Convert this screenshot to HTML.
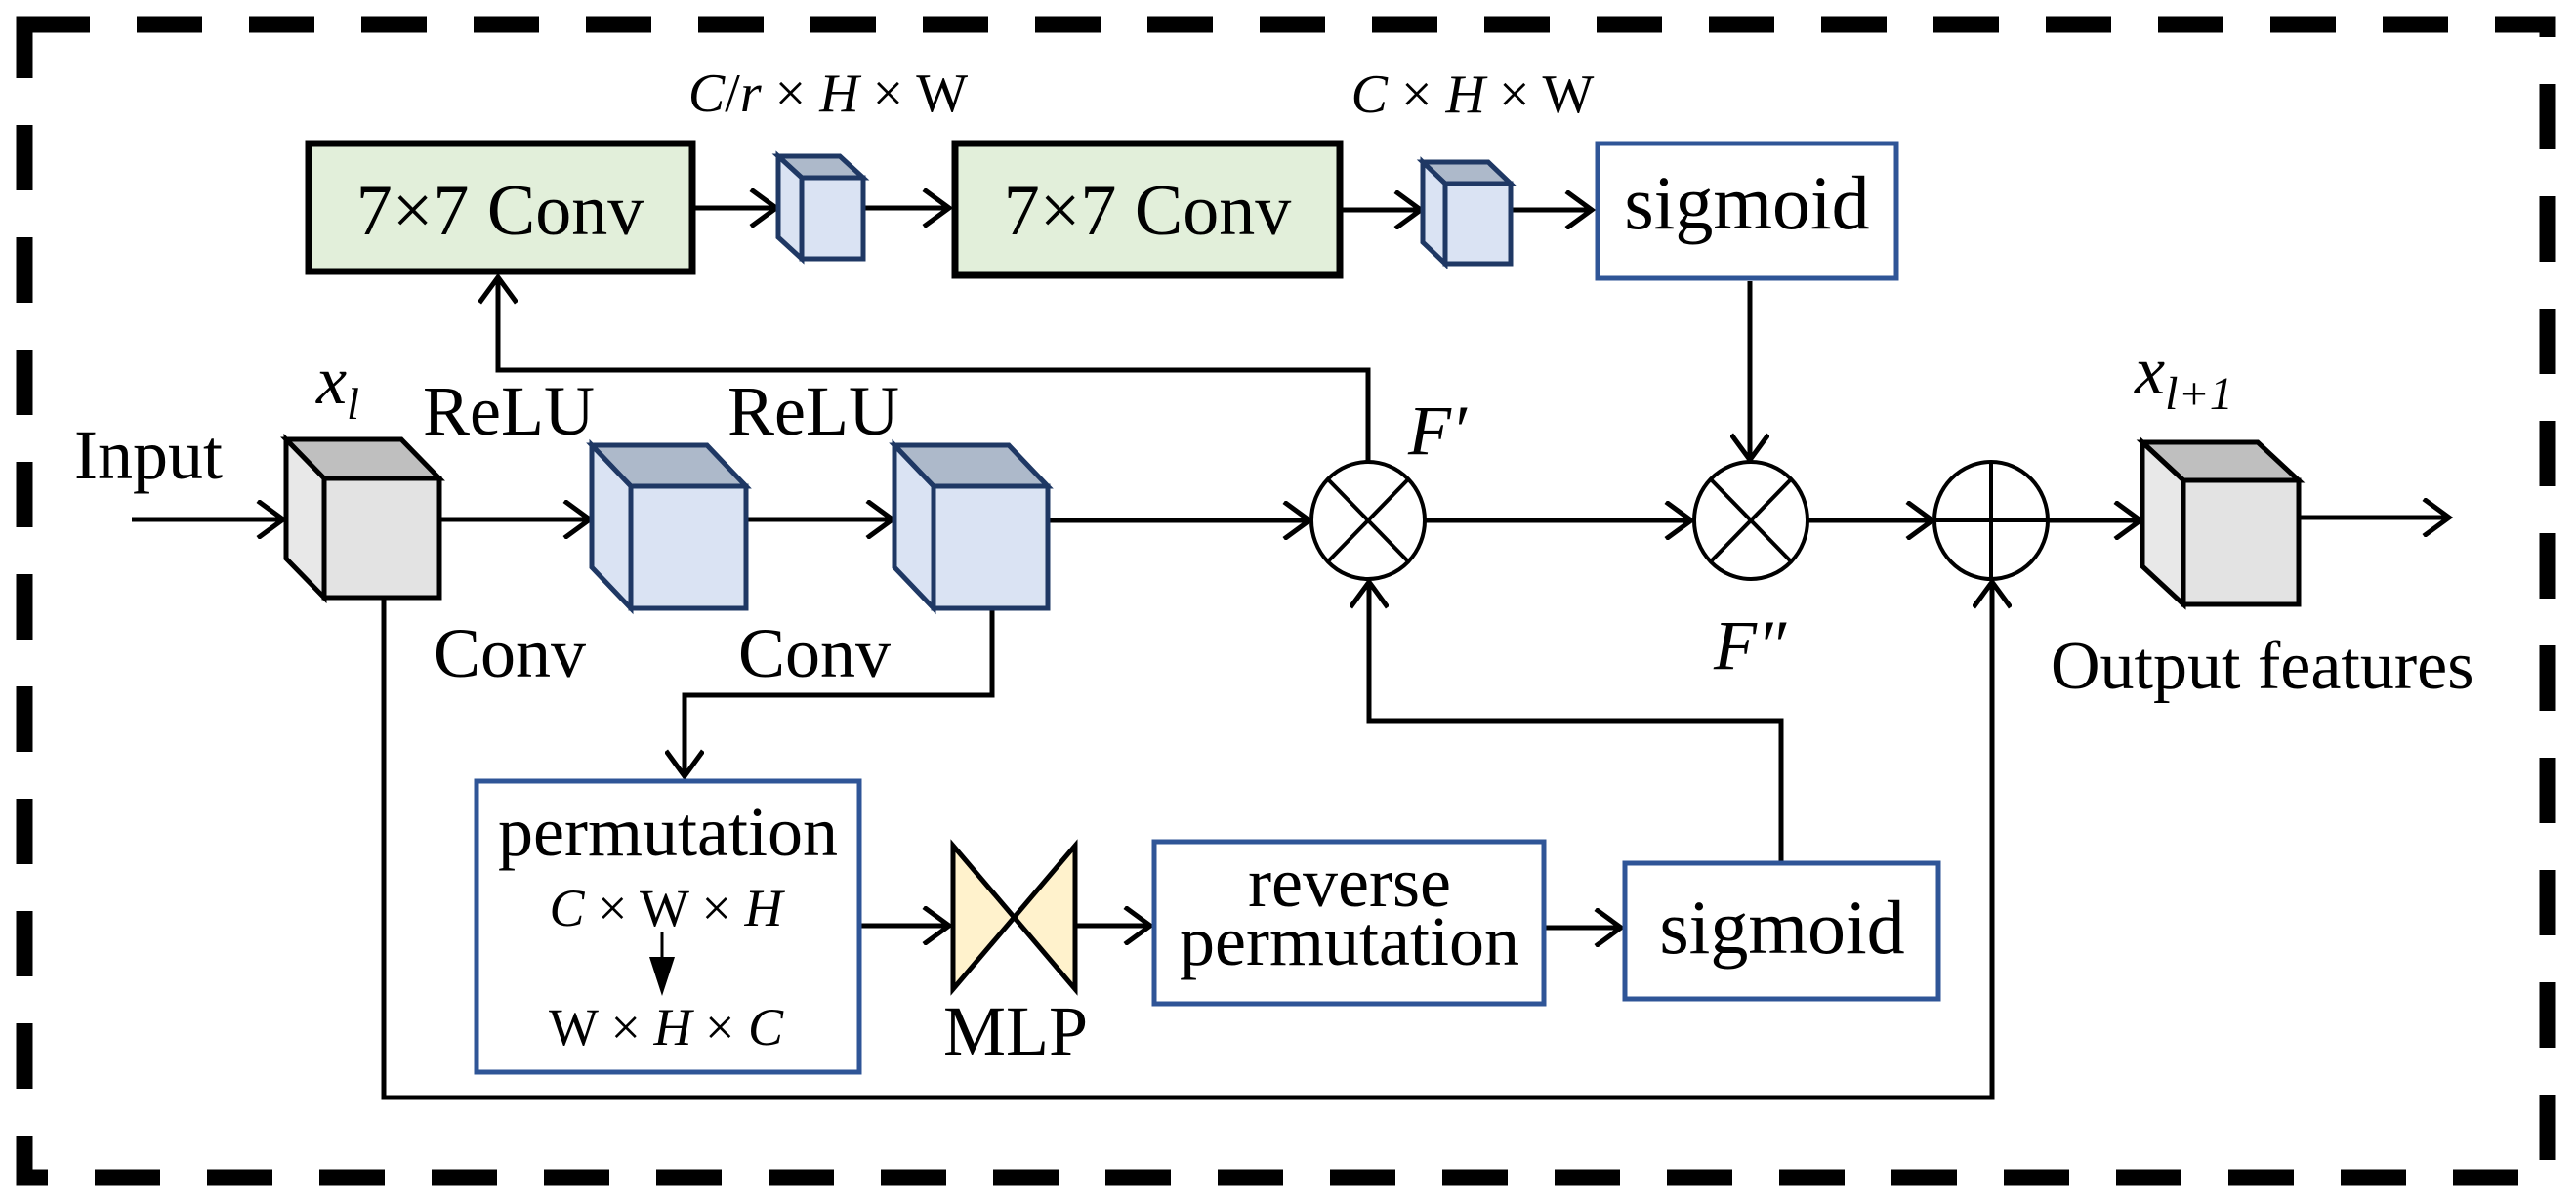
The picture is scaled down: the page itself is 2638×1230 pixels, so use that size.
<!DOCTYPE html>
<html><head><meta charset="utf-8">
<style>html,body{margin:0;padding:0;background:#fff}svg{display:block}
text{font-family:"Liberation Serif",serif;fill:#000}</style></head>
<body>
<svg width="2638" height="1230" viewBox="0 0 2638 1230" xmlns="http://www.w3.org/2000/svg">
<defs>
<marker id="a" markerWidth="40" markerHeight="40" refX="30" refY="20" orient="auto" markerUnits="userSpaceOnUse">
<path d="M4,1 L30,20 L4,39" fill="none" stroke="#000" stroke-width="5"/>
</marker>
</defs>
<rect x="25" y="25" width="2584" height="1181" fill="none" stroke="#000" stroke-width="17" stroke-dasharray="67 48"/>

<g fill="none" stroke="#000" stroke-width="5">
<line x1="712" y1="213" x2="795" y2="213" marker-end="url(#a)"/>
<line x1="886" y1="213" x2="972" y2="213" marker-end="url(#a)"/>
<line x1="1375" y1="215" x2="1455" y2="215" marker-end="url(#a)"/>
<line x1="1547" y1="215" x2="1630" y2="215" marker-end="url(#a)"/>
<line x1="135" y1="532" x2="290" y2="532" marker-end="url(#a)"/>
<line x1="450" y1="532" x2="604" y2="532" marker-end="url(#a)"/>
<line x1="764" y1="532" x2="914" y2="532" marker-end="url(#a)"/>
<line x1="1073" y1="533" x2="1341" y2="533" marker-end="url(#a)"/>
<line x1="1460" y1="533" x2="1732" y2="533" marker-end="url(#a)"/>
<line x1="1852" y1="533" x2="1979" y2="533" marker-end="url(#a)"/>
<line x1="2097" y1="533" x2="2192" y2="533" marker-end="url(#a)"/>
<line x1="2354" y1="530" x2="2508" y2="530" marker-end="url(#a)"/>
<polyline points="1401,473 1401,379 510,379 510,284" marker-end="url(#a)"/>
<line x1="1792" y1="288" x2="1792" y2="471" marker-end="url(#a)"/>
<polyline points="1016,623 1016,712 701,712 701,795" marker-end="url(#a)"/>
<line x1="882" y1="948" x2="972" y2="948" marker-end="url(#a)"/>
<line x1="1101" y1="948" x2="1178" y2="948" marker-end="url(#a)"/>
<line x1="1583" y1="950" x2="1660" y2="950" marker-end="url(#a)"/>
<polyline points="1824,882 1824,738 1402,738 1402,596" marker-end="url(#a)"/>
<polyline points="393,612 393,1124 2040,1124 2040,596" marker-end="url(#a)"/>
</g>

<rect x="316" y="147" width="393" height="131" fill="#e2efda" stroke="#000" stroke-width="7"/>
<rect x="978" y="147" width="394" height="135" fill="#e2efda" stroke="#000" stroke-width="7"/>
<text x="512" y="240" font-size="74" text-anchor="middle">7×7 Conv</text>
<text x="1175" y="240" font-size="74" text-anchor="middle">7×7 Conv</text>

<rect x="1636" y="147" width="306" height="138" fill="#fff" stroke="#2f5597" stroke-width="5"/>
<text x="1789" y="234" font-size="78" text-anchor="middle">sigmoid</text>

<g stroke-width="5" stroke-linejoin="miter">
<g stroke="#000">
<polygon points="293,450 411,450 450,490 332,490" fill="#bfbfbf"/>
<polygon points="293,450 332,490 332,612 293,572" fill="#e8e8e8"/>
<rect x="332" y="490" width="118" height="122" fill="#e3e3e3"/>
<polygon points="2194,453 2312,453 2354,492 2236,492" fill="#bfbfbf"/>
<polygon points="2194,453 2236,492 2236,619 2194,580" fill="#e8e8e8"/>
<rect x="2236" y="492" width="118" height="127" fill="#e3e3e3"/>
</g>
<g stroke="#1f3864">
<polygon points="606,456 724,456 764,498 646,498" fill="#adb9ca"/>
<polygon points="606,456 646,498 646,623 606,581" fill="#dae3f3"/>
<rect x="646" y="498" width="118" height="125" fill="#dae3f3"/>
<polygon points="916,456 1033,456 1073,498 956,498" fill="#adb9ca"/>
<polygon points="916,456 956,498 956,623 916,581" fill="#dae3f3"/>
<rect x="956" y="498" width="117" height="125" fill="#dae3f3"/>
<polygon points="797,160 860,160 884,182 821,182" fill="#adb9ca"/>
<polygon points="797,160 821,182 821,265 797,243" fill="#dae3f3"/>
<rect x="821" y="182" width="63" height="83" fill="#dae3f3"/>
<polygon points="1457,166 1524,166 1547,188 1480,188" fill="#adb9ca"/>
<polygon points="1457,166 1480,188 1480,270 1457,248" fill="#dae3f3"/>
<rect x="1480" y="188" width="67" height="82" fill="#dae3f3"/>
</g>
</g>

<g fill="#fff" stroke="#000" stroke-width="4">
<ellipse cx="1401" cy="533" rx="58" ry="60"/>
<line x1="1360" y1="491" x2="1442" y2="575"/><line x1="1442" y1="491" x2="1360" y2="575"/>
<ellipse cx="1793" cy="533" rx="58" ry="60"/>
<line x1="1752" y1="491" x2="1834" y2="575"/><line x1="1834" y1="491" x2="1752" y2="575"/>
<ellipse cx="2039" cy="533" rx="58" ry="60"/>
<line x1="2039" y1="473" x2="2039" y2="593"/><line x1="1981" y1="533" x2="2097" y2="533"/>
</g>

<rect x="488" y="800" width="392" height="298" fill="#fff" stroke="#2f5597" stroke-width="5"/>
<text x="684" y="876" font-size="72" text-anchor="middle">permutation</text>
<text x="682" y="948" font-size="54" text-anchor="middle"><tspan font-style="italic">C</tspan> × W × <tspan font-style="italic">H</tspan></text>
<line x1="678" y1="954" x2="678" y2="985" stroke="#000" stroke-width="3"/>
<polygon points="665,980 691,980 678,1020" fill="#000"/>
<text x="682" y="1070" font-size="54" text-anchor="middle">W × <tspan font-style="italic">H</tspan> × <tspan font-style="italic">C</tspan></text>

<polygon points="976,866 1101,1013 1101,866 976,1013" fill="#fff2cc" stroke="#000" stroke-width="5" stroke-linejoin="miter"/>
<text x="1040" y="1080" font-size="72" text-anchor="middle">MLP</text>

<rect x="1182" y="862" width="399" height="166" fill="#fff" stroke="#2f5597" stroke-width="5"/>
<text x="1382" y="928" font-size="72" text-anchor="middle">reverse</text>
<text x="1382" y="988" font-size="72" text-anchor="middle">permutation</text>

<rect x="1664" y="884" width="321" height="139" fill="#fff" stroke="#2f5597" stroke-width="5"/>
<text x="1825" y="976" font-size="78" text-anchor="middle">sigmoid</text>

<text x="848" y="114" font-size="56" text-anchor="middle"><tspan font-style="italic">C</tspan>/<tspan font-style="italic">r</tspan> × <tspan font-style="italic">H</tspan> × W</text>
<text x="1508" y="115" font-size="56" text-anchor="middle"><tspan font-style="italic">C</tspan> × <tspan font-style="italic">H</tspan> × W</text>
<text x="76" y="490" font-size="72">Input</text>
<text x="324" y="413" font-size="70" font-style="italic">x<tspan font-size="46" dy="16">l</tspan></text>
<text x="433" y="445" font-size="72">ReLU</text>
<text x="745" y="445" font-size="72">ReLU</text>
<text x="444" y="693" font-size="72">Conv</text>
<text x="756" y="693" font-size="72">Conv</text>
<text x="1442" y="465" font-size="72" font-style="italic">F′</text>
<text x="1755" y="685" font-size="72" font-style="italic">F″</text>
<text x="2186" y="403" font-size="70" font-style="italic">x<tspan font-size="48" dy="16">l+1</tspan></text>
<text x="2100" y="705" font-size="70">Output features</text>
</svg>
</body></html>
